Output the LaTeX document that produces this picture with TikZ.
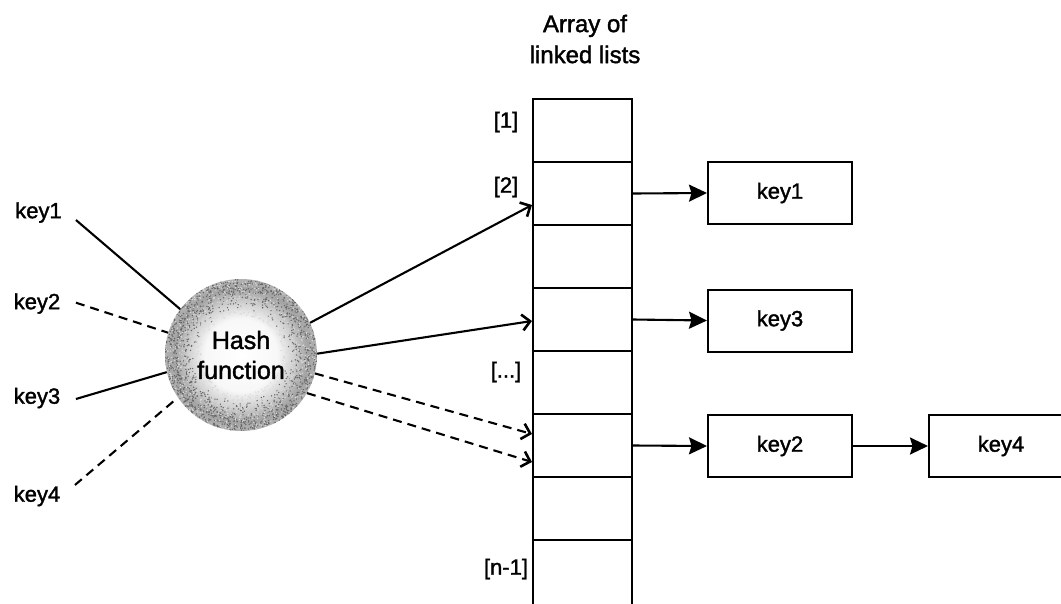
\documentclass[tikz,border=0pt]{standalone}
\usepackage{fontspec}
\setmainfont{Liberation Sans}[BoldFont={Liberation Sans}, BoldFeatures={FakeBold=1.6}]
\usetikzlibrary{arrows.meta,calc}

\pgfdeclareradialshading{hashball}{\pgfpoint{0bp}{0bp}}{color(0bp)=(white); color(12bp)=(white!97!black); color(17bp)=(gray!35); color(22bp)=(gray!72); color(25bp)=(gray!60); color(50bp)=(gray!60)}

\begin{document}
\begin{tikzpicture}[x=1pt,y=-1pt,
  lbl/.style={font=\bfseries\fontsize{22}{26}\selectfont, inner sep=0pt},
  cell/.style={draw, line width=2pt, minimum width=99pt, minimum height=63pt, inner sep=0pt},
  keybox/.style={draw, line width=2pt, minimum width=144pt, minimum height=62pt, inner sep=0pt, font=\bfseries\fontsize{22}{26}\selectfont},
  conn/.style={line width=2.1pt},
  dashedconn/.style={conn, dash pattern=on 9pt off 6pt},
  inarr/.style={-{Straight Barb[length=8pt,width=16pt,line width=2.6pt]}},
  outarr/.style={conn, -{Stealth[length=18pt,width=17pt,inset=2.5pt]}}
]
\useasboundingbox (0,0) rectangle (1061,603);
\clip (0,0) rectangle (1061,603);

% title
\node[font=\bfseries\fontsize{24}{31}\selectfont, align=center, anchor=north, inner sep=0pt] (title) at (585,14.5) {Array of\\linked lists};

% array cells
\foreach \i in {1,...,7} {
  \node[cell] (c\i) at (582.5,{130.5+63*(\i-1)}) {};
}
\node[cell, minimum height=90pt] (c8) at (582.5,585) {};

% index labels
\node[lbl] (l1) at (506,122) {[1]};
\node[lbl] (l2) at (506,187) {[2]};
\node[lbl] (l3) at (506,372) {[...]};
\node[lbl] (l4) at (506,569) {[n-1]};

% hash function: textured ball
\coordinate (hc) at (241,355);
\shade[shading=hashball] (hc) circle (76);
\pgfmathsetseed{7}
\begin{scope}
  \clip (hc) circle (76);
  \foreach \k in {1,...,1400} {
    \pgfmathsetmacro\ang{360*rnd}
    \pgfmathsetmacro\rad{44+32*sqrt(rnd)}
    \fill[black!60] ($(hc)+(\ang:\rad)$) circle (0.75);
  }
  \foreach \k in {1,...,900} {
    \pgfmathsetmacro\ang{360*rnd}
    \pgfmathsetmacro\rad{40+36*rnd}
    \fill[white!85!black] ($(hc)+(\ang:\rad)$) circle (0.75);
  }
\end{scope}
\node[circle, minimum size=152pt, inner sep=0pt, align=center, font=\bfseries\fontsize{25}{30}\selectfont] (hash) at (hc) {Hash\\function};

% input keys
\node[lbl] (key1) at (38.5,212.5) {key1};
\node[lbl] (key2) at (37,303.5) {key2};
\node[lbl] (key3) at (37,398) {key3};
\node[lbl] (key4) at (37,496) {key4};

\draw[conn] ([shift={(14,7.5)}]key1.east) -- (hash.143.6);
\draw[dashedconn] ([shift={(15.5,-0.8)}]key2.east) -- (hash.163.9);
\draw[conn] ([shift={(15.5,1)}]key3.east) -- (hash.193);
\draw[dashedconn] ([shift={(14.5,-11)}]key4.east) -- (hash.214.6);

% hash to array
\draw[conn, inarr] (hash.25.6) -- ([yshift=-11.5pt]c2.west);
\draw[conn, inarr] (hash.1) -- ([yshift=-1.5pt]c4.west);
\draw[dashedconn, inarr] (hash.-14) -- ([yshift=11.5pt]c6.west);
\draw[dashedconn, inarr] (hash.-30.7) -- ([yshift=-16.5pt]c6.west);

% linked list nodes
\node[keybox] (n1) at (780,193) {key1};
\node[keybox] (n3) at (780,320.5) {key3};
\node[keybox] (n2) at (780,446) {key2};
\node[keybox] (n4) at (1001,446) {key4};

\draw[outarr] (c2.east) -- (n1.west);
\draw[outarr] (c4.east) -- (n3.west);
\draw[outarr] (c6.east) -- (n2.west);
\draw[outarr] (n2.east) -- (n4.west);
\end{tikzpicture}
\end{document}
